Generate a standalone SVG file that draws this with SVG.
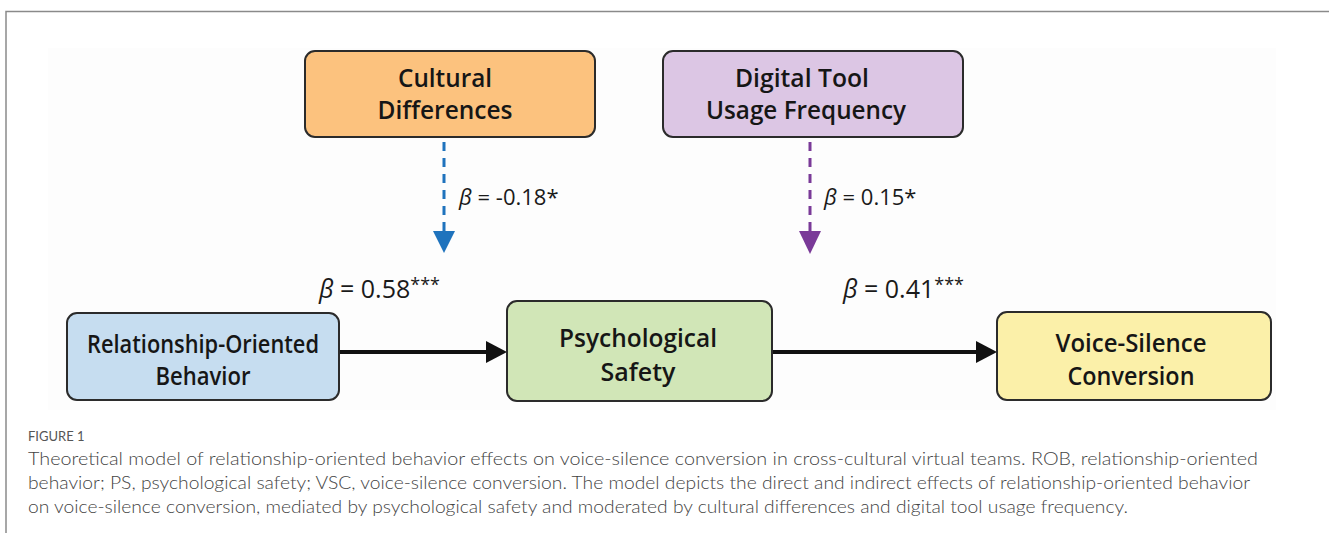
<svg xmlns="http://www.w3.org/2000/svg" width="1329" height="535" viewBox="0 0 1329 535">
  <style>
    .frame { fill: none; stroke: #8a8a8a; stroke-width: 1.5; }
    .node rect { stroke: #2b2b2b; stroke-width: 2; }
    .node text { font-family: "Open Sans", "Noto Sans", sans-serif; font-weight: 600; font-size: 25px; fill: #161616; text-anchor: middle; }
    .beta { font-family: "Open Sans", "Noto Sans", sans-serif; fill: #1a1a1a; }
    .beta tspan.sym { font-style: italic; }
    .caption { font-family: "Lato", "Open Sans", sans-serif; font-weight: 300; font-size: 17.5px; fill: #444; }
    .fig { font-family: "Lato", "Open Sans", sans-serif; font-size: 13px; fill: #555; }
    .solid { stroke: #111; stroke-width: 4; fill: none; }
    .dash-blue { stroke: #1f73bd; stroke-width: 3; stroke-dasharray: 9 7; fill: none; }
    .dash-purple { stroke: #7a3a98; stroke-width: 3; stroke-dasharray: 9 7; fill: none; }
  </style>

  <rect x="0" y="0" width="1329" height="535" fill="#fff"/>
  <!-- figure frame: top and left rules -->
  <path class="frame" d="M6,533 V11.5 H1329"/>
  <!-- faint panel behind the model -->
  <rect x="48" y="48" width="1228" height="362" fill="#fdfdfd"/>

  <g id="connectors">
    <line class="solid" x1="339" y1="352" x2="490" y2="352"/>
    <path d="M486,341 L507,352 L486,363 z" fill="#111"/>
    <line class="solid" x1="772" y1="352" x2="980" y2="352"/>
    <path d="M976,341 L997,352 L976,363 z" fill="#111"/>
    <line class="dash-blue" x1="444" y1="142" x2="444" y2="234"/>
    <path d="M433,231 L455,231 L444,253 z" fill="#1f73bd"/>
    <line class="dash-purple" x1="810" y1="142" x2="810" y2="234"/>
    <path d="M799,231 L821,231 L810,254 z" fill="#7a3a98"/>
  </g>

  <g id="labels">
    <text class="beta" x="459" y="205" font-size="22"><tspan class="sym">β</tspan> = -0.18*</text>
    <text class="beta" x="824" y="205" font-size="22"><tspan class="sym">β</tspan> = 0.15*</text>
    <text class="beta" x="319" y="298" font-size="25"><tspan class="sym">β</tspan> = 0.58<tspan font-size="18" dy="-7">***</tspan></text>
    <text class="beta" x="843" y="298" font-size="25"><tspan class="sym">β</tspan> = 0.41<tspan font-size="18" dy="-7">***</tspan></text>
  </g>

  <g id="cultural-differences" class="node">
    <rect x="305" y="51" width="290" height="86" rx="10" fill="#fcc27e"/>
    <text x="445" y="87" textLength="94" lengthAdjust="spacingAndGlyphs">Cultural</text>
    <text x="445" y="119" textLength="135" lengthAdjust="spacingAndGlyphs">Differences</text>
  </g>

  <g id="digital-tool-usage" class="node">
    <rect x="663" y="51" width="300" height="86" rx="10" fill="#dcc6e4"/>
    <text x="802" y="87" textLength="134" lengthAdjust="spacingAndGlyphs">Digital Tool</text>
    <text x="806" y="119" textLength="200" lengthAdjust="spacingAndGlyphs">Usage Frequency</text>
  </g>

  <g id="relationship-oriented-behavior" class="node">
    <rect x="67" y="313" width="272" height="87" rx="10" fill="#c6ddf0"/>
    <text x="203" y="353" textLength="232" lengthAdjust="spacingAndGlyphs">Relationship-Oriented</text>
    <text x="203" y="385" textLength="95" lengthAdjust="spacingAndGlyphs">Behavior</text>
  </g>

  <g id="psychological-safety" class="node">
    <rect x="507" y="301" width="265" height="100" rx="10" fill="#d1e6b7"/>
    <text x="638" y="347" textLength="158" lengthAdjust="spacingAndGlyphs">Psychological</text>
    <text x="638" y="381" textLength="75" lengthAdjust="spacingAndGlyphs">Safety</text>
  </g>

  <g id="voice-silence-conversion" class="node">
    <rect x="997" y="312" width="274" height="88" rx="10" fill="#fbf0a9"/>
    <text x="1131" y="352" textLength="151" lengthAdjust="spacingAndGlyphs">Voice-Silence</text>
    <text x="1131" y="385" textLength="127" lengthAdjust="spacingAndGlyphs">Conversion</text>
  </g>

  <g id="caption">
    <text class="fig" x="28" y="441">FIGURE 1</text>
    <text class="caption" x="28" y="465" textLength="1230" lengthAdjust="spacingAndGlyphs">Theoretical model of relationship-oriented behavior effects on voice-silence conversion in cross-cultural virtual teams. ROB, relationship-oriented</text>
    <text class="caption" x="28" y="489" textLength="1222" lengthAdjust="spacingAndGlyphs">behavior; PS, psychological safety; VSC, voice-silence conversion. The model depicts the direct and indirect effects of relationship-oriented behavior</text>
    <text class="caption" x="28" y="513" textLength="1100" lengthAdjust="spacingAndGlyphs">on voice-silence conversion, mediated by psychological safety and moderated by cultural differences and digital tool usage frequency.</text>
  </g>
</svg>
